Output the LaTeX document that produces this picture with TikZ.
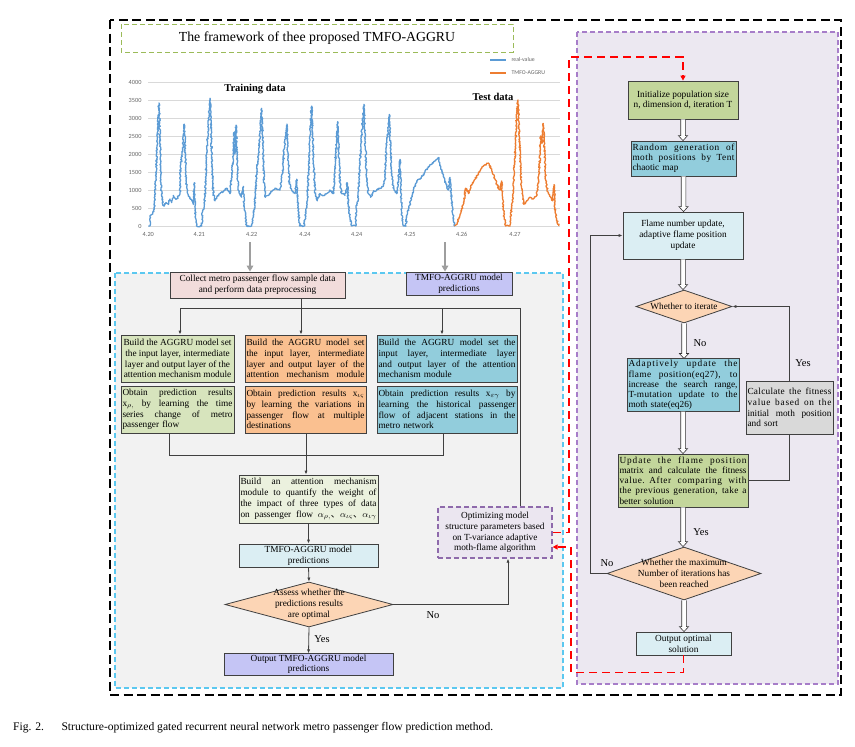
\documentclass[tikz,border=0pt]{standalone}
\usepackage{fontspec}
\setmainfont{Liberation Serif}
\newfontfamily\chartfont{Carlito}
\newfontfamily\cjkfont{Noto Sans CJK SC}
\usetikzlibrary{arrows.meta,shapes.geometric,calc,decorations.pathmorphing}
\newcommand\bxfont{\fontsize{9.3}{10.8}\selectfont}
\newcommand\bxsfont{\fontsize{9.3}{10.2}\selectfont}
\newcommand\jline[1]{\makebox[\hsize][s]{\spaceskip=0.25em plus 1fil\relax #1}}
\newcommand\ljline[2]{\makebox[\hsize][s]{\addfontfeatures{LetterSpace=#1}\spaceskip=0.25em plus 1fil\relax #2}}
\newcommand\cjkcomma{{\cjkfont 、}}
\definecolor{cA}{HTML}{D7E4BD}
\definecolor{cB}{HTML}{FAC090}
\definecolor{cC}{HTML}{92CDDC}
\definecolor{cPink}{HTML}{F2DCDB}
\definecolor{cLav}{HTML}{C5C5F5}
\definecolor{cLB}{HTML}{DBEEF3}
\definecolor{cLG}{HTML}{EBF1DE}
\definecolor{cDia}{HTML}{FCD5B5}
\definecolor{cG2}{HTML}{C3D69B}
\definecolor{cGray}{HTML}{D9D9D9}
\definecolor{cOpt}{HTML}{EBE6F0}
\definecolor{cPurp}{HTML}{A77DC9}
\definecolor{cPurpBg}{HTML}{ECE8F1}
\definecolor{cCyan}{HTML}{5BC8F0}
\definecolor{cOlive}{HTML}{9BBB59}
\definecolor{cBlue}{HTML}{5B9BD5}
\definecolor{cOrange}{HTML}{ED7D31}
\newcommand\harrow[2]{\path[draw=black!80, fill=white, line width=0.6pt] let \p1=(#1), \p2=(#2) in (\x1-2.3pt,\y1) -- (\x1-2.3pt,\y2+5pt) -- (\x1-4.6pt,\y2+5pt) -- (\x1,\y2) -- (\x1+4.6pt,\y2+5pt) -- (\x1+2.3pt,\y2+5pt) -- (\x1+2.3pt,\y1);}
\begin{document}
\begin{tikzpicture}[x=1pt,y=-1pt,
  box/.style={draw=black!75, line width=0.8pt, inner sep=1.5pt, font=\bxfont, align=center},
  jbox/.style={box, align=left},
  dia/.style={draw=black!75, line width=0.8pt, shape=diamond, inner sep=0pt, fill=cDia},
  ln/.style={draw=black!75, line width=0.8pt},
  tip/.style={-{Latex[length=4pt,width=3.2pt]}},
  lbl/.style={font=\fontsize{10.5}{12}\selectfont},
  redl/.style={draw=red, line width=1.4pt, dash pattern=on 8pt off 5pt},
  grayarrow/.style={draw=black!38, line width=1.6pt, -{Triangle[length=6pt,width=6.5pt]}},
  chl/.style={font=\chartfont\fontsize{6.3}{7}\selectfont, text=black!60}
]
\useasboundingbox (0,0) rectangle (855,747);
\fill[white] (0,0) rectangle (855,747);

% frames
\draw[black, line width=1.8pt, dash pattern=on 9pt off 4.5pt] (110,20) rectangle (841,695);
\draw[cPurp, fill=cPurpBg, line width=1.2pt, dash pattern=on 5pt off 3pt] (577,32) rectangle (838,684);
\draw[cCyan, fill=black!5, line width=1.2pt, dash pattern=on 5pt off 3pt] (115,273) rectangle (563,688);
\draw[cOlive, line width=1pt, dash pattern=on 5pt off 3pt] (121,24) rectangle (513,52);
\node[font=\fontsize{13.8}{15}\selectfont] (title) at (317,38) {The framework of thee proposed TMFO-AGGRU};

% chart
\begin{scope}[shift={(100pt,-226pt)}, x=0.33333pt, y=0.036pt]
  \foreach \v in {0,500,...,4000} {
    \draw[black!15, line width=0.5pt] (145,\v) -- (1380,\v);
    \node[chl, anchor=east] at (135,\v) {\v};
  }
  \foreach \xx/\t in {145/4.20, 298/4.21, 455/4.22, 615/4.24, 770/4.24, 930/4.25, 1085/4.26, 1245/4.27}
    \node[chl] at (\xx,-225) {\t};
  \pgfmathsetseed{11}
  \draw[cBlue, line width=1.3pt, line join=round, decorate, decoration={random steps, segment length=1pt, amplitude=0.8pt}] plot coordinates {
  (145,0) (150,0) (152,300) (158,350) (163,500) (168,1500) (171,2200) (174,2800) (177,3420) (180,2500) (183,1200) (187,700) (192,550) (198,650) (205,600) (210,750) (215,650) (220,850) (230,750) (240,900) (242,1700) (246,2000) (250,2400) (253,2830) (256,2000) (259,1200) (263,900) (270,800) (275,700) (280,600) (283,1200) (285,500) (288,100) (290,0) (305,0) (308,400) (312,500) (316,1000) (320,2000) (325,2800) (330,3550) (334,2500) (337,1500) (340,900) (345,700) (350,800) (360,900) (370,950) (380,1050) (390,900) (398,1700) (402,2600) (405,2000) (408,2800) (411,2000) (414,1100) (418,900) (425,800) (430,1100) (432,600) (436,300) (440,0) (455,0) (460,300) (465,700) (470,1500) (475,2000) (480,2500) (485,3270) (489,2200) (492,1200) (496,800) (505,850) (515,950) (525,1050) (540,1000) (548,1500) (553,2200) (557,2500) (561,2830) (564,2000) (568,1200) (575,1000) (585,900) (590,1300) (593,700) (597,200) (600,0) (612,0) (618,400) (622,700) (626,1500) (630,2500) (635,3330) (638,2500) (642,1500) (646,900) (652,700) (660,900) (670,850) (680,900) (690,1000) (700,900) (706,1800) (710,2600) (713,2900) (716,2100) (720,1200) (725,900) (735,850) (742,1200) (745,600) (750,200) (755,0) (767,0) (770,600) (774,700) (778,1500) (783,2300) (787,2800) (792,3380) (796,2300) (800,1300) (805,900) (812,800) (820,950) (830,1000) (840,1050) (850,1100) (855,1300) (860,2400) (865,2600) (868,3100) (872,2200) (876,1300) (882,1000) (890,900) (896,1300) (900,1850) (903,900) (906,200) (910,0) (918,0) (922,400) (927,500) (932,700) (940,1000) (950,1250) (960,1300) (975,1500) (985,1650) (1000,1750) (1015,1900) (1020,1700) (1030,1400) (1040,1100) (1045,1000) (1050,1350) (1055,700) (1060,150) (1065,0)};
  \draw[cOrange, line width=1.3pt, line join=round, decorate, decoration={random steps, segment length=1pt, amplitude=0.8pt}] plot coordinates {
  (1065,0) (1072,100) (1080,300) (1090,600) (1097,1050) (1105,900) (1115,1150) (1125,1300) (1135,1450) (1145,1600) (1155,1700) (1165,1750) (1175,1550) (1185,1300) (1195,1050) (1200,1000) (1205,1250) (1208,800) (1212,300) (1217,0) (1230,0) (1235,500) (1240,1000) (1245,2000) (1250,3000) (1254,3500) (1258,2500) (1262,1500) (1266,900) (1272,600) (1280,700) (1290,800) (1300,750) (1310,850) (1318,1500) (1322,2500) (1326,2300) (1330,2850) (1334,2000) (1338,1200) (1345,900) (1352,800) (1358,700) (1362,1150) (1365,500) (1370,200) (1376,0)};
\end{scope}
\draw[cBlue, line width=1.3pt] (490,60) -- (506,60);
\node[chl, anchor=west, font=\chartfont\fontsize{5.8}{7}\selectfont] (lg1) at (508,60) {real-value};
\draw[cOrange, line width=1.3pt] (490,73) -- (506,73);
\node[chl, anchor=west, font=\chartfont\fontsize{5.8}{7}\selectfont] (lg2) at (508,73) {TMFO-AGGRU};
\node[font=\bfseries\fontsize{10.5}{12}\selectfont] (train) at (255,89) {Training data};
\node[font=\bfseries\fontsize{10.5}{12}\selectfont] (test) at (493,97) {Test data};

% left flowchart nodes
\node[box, fill=cPink, minimum width=175, minimum height=26] (collect) at (257.5,285) {Collect metro passenger flow sample data\\and perform data preprocessing};
\node[box, fill=cLav, minimum width=106, minimum height=23] (tmfo) at (459,283.5) {TMFO-AGGRU model\\predictions};

\node[box, fill=cA, minimum width=113, minimum height=47] (a1) at (177.5,358.5) {Build the AGGRU model set\\the input layer, intermediate\\layer and output layer of the\\attention mechanism module};
\node[jbox, fill=cB, minimum width=121, minimum height=47, text width=118] (b1) at (305.5,358.5) {\jline{Build the AGGRU model set}\\\jline{the input layer, intermediate}\\\jline{layer and output layer of the}\\\jline{attention mechanism module}};
\node[jbox, fill=cC, minimum width=140, minimum height=47, text width=137] (c1) at (447,358.5) {\jline{Build the AGGRU model set the}\\\jline{input layer, intermediate layer}\\\jline{and output layer of the attention}\\mechanism module};

\node[jbox, fill=cA, minimum width=113, minimum height=47, text width=110] (a2) at (177.5,409.5) {\jline{Obtain prediction results}\\\jline{x$_{\rho,}$ by learning the time}\\\jline{series change of metro}\\passenger flow};
\node[jbox, fill=cB, minimum width=121, minimum height=47, text width=118] (b2) at (305.5,409.5) {\jline{Obtain prediction results x$_{\iota\varsigma}$}\\\jline{by learning the variations in}\\\jline{passenger flow at multiple}\\destinations};
\node[jbox, fill=cC, minimum width=140, minimum height=47, text width=137] (c2) at (447,409.5) {\jline{Obtain prediction results x$_{\varepsilon\gamma}$ by}\\\jline{learning the historical passenger}\\\jline{flow of adjacent stations in the}\\metro network};

\node[jbox, fill=cLG, minimum width=139, minimum height=48, text width=136] (att) at (308.5,499) {\jline{Build an attention mechanism}\\\jline{module to quantify the weight of}\\\jline{the impact of three types of data}\\\jline{on passenger flow $\alpha_{\rho,}$\cjkcomma$\alpha_{\iota\varsigma}$\cjkcomma$\alpha_{\iota\gamma}$}};
\node[box, fill=cLB, minimum width=139, minimum height=23] (pred) at (308.5,555.5) {TMFO-AGGRU model\\predictions};
\node[dia, minimum width=168, minimum height=45, label={[font=\bxfont, align=center]center:{Assess whether the\\predictions results\\are optimal}}] (dl) at (309,604.5) {};
\node[box, fill=cLav, minimum width=169, minimum height=21, font=\fontsize{9.3}{10}\selectfont] (outl) at (308.5,664.5) {Output TMFO-AGGRU model\\predictions};
\node[box, fill=cOpt, draw=cPurp!85!black, line width=1.3pt, dash pattern=on 5pt off 3pt, minimum width=114, minimum height=51] (opt) at (495,532.5) {Optimizing model\\structure parameters based\\on T-variance adaptive\\moth-flame algorithm};

% left connectors
\draw[grayarrow] (250,242) -- (collect.north -| 250,0);
\draw[grayarrow] (445,242) -- (tmfo.north -| 445,0);
\coordinate (busA) at (180,308);
\coordinate (busB) at (301,308);
\coordinate (busC) at (442,308);
\coordinate (busR) at (520,308);
\draw[ln] (collect.south -| busB) -- (busB);
\draw[ln] (busA) -- (busR);
\draw[ln,tip] (busA) -- (busA |- a1.north);
\draw[ln,tip] (busB) -- (busB |- b1.north);
\draw[ln,tip] (busC) -- (busC |- c1.north);
\draw[ln] (busR) -- (busR |- opt.north);
\coordinate (mA) at (169,455);
\coordinate (mB) at (306,455);
\coordinate (mC) at (443,455);
\draw[ln] (a2.south -| mA) -- (mA) -- (mC) -- (c2.south -| mC);
\draw[ln] (b2.south -| mB) -- (mB);
\draw[ln,tip] (mB) -- (att.north -| mB);
\draw[ln,tip] (att.south) -- (pred.north);
\draw[ln,tip] (pred.south) -- (dl.north);
\draw[ln,tip] (dl.south) -- (outl.north);
\coordinate (noc) at (508,604.5);
\draw[ln,tip] (dl.east) -- (noc) -- (noc |- opt.south);
\node[lbl] (yesl) at (322,639) {Yes};
\node[lbl] (nol) at (433,615) {No};

% right flowchart nodes
\node[box, fill=cG2, minimum width=110, minimum height=38] (init) at (683,100) {Initialize population size\\n, dimension d, iteration T};
\node[jbox, fill=cC, minimum width=105, minimum height=35, text width=102, font=\bxsfont] (rand) at (683.5,158.5) {\ljline{7}{Random generation of}\\\ljline{5}{moth positions by Tent}\\chaotic map};
\node[box, fill=cLB, minimum width=120, minimum height=47] (fl) at (683,235.5) {Flame number update,\\adaptive flame position\\update};
\node[dia, minimum width=96, minimum height=33, label={[font=\bxfont]center:Whether to iterate}] (d1) at (684,306.5) {};
\node[jbox, fill=cC, minimum width=112, minimum height=52, text width=109, font=\bxsfont] (adapt) at (683,385) {\ljline{10}{Adaptively update the}\\\ljline{4}{flame position(eq27), to}\\\jline{increase the search range,}\\\ljline{3}{T-mutation update to the}\\moth state(eq26)};
\node[jbox, fill=cG2, minimum width=130, minimum height=53, text width=127, font=\bxsfont] (upd) at (683,480.5) {\ljline{10}{Update the flame position}\\\jline{matrix and calculate the fitness}\\\ljline{6}{value. After comparing with}\\\ljline{3}{the previous generation, take a}\\better solution};
\node[jbox, fill=cGray, minimum width=87, minimum height=53, text width=84] (calc) at (789.5,407.5) {\ljline{3}{Calculate the fitness}\\\ljline{8}{value based on the}\\\jline{initial moth position}\\and sort};
\node[dia, minimum width=154, minimum height=53, label={[font=\bxfont, align=center]center:{Whether the maximum\\Number of iterations has\\been reached}}] (d2) at (684,573.5) {};
\node[box, fill=cLB, minimum width=95, minimum height=23] (outopt) at (683.5,643.5) {Output optimal\\solution};

% right connectors
\harrow{init.south}{rand.north}
\harrow{rand.south}{fl.north}
\harrow{fl.south}{d1.north}
\harrow{d1.south}{adapt.north}
\harrow{adapt.south}{upd.north}
\harrow{upd.south}{d2.north}
\harrow{d2.south}{outopt.north}
\draw[ln] (upd.east) -- (upd.east -| calc.south) -- (calc.south);
\draw[ln,tip] (calc.north) -- (calc.north |- d1.east) -- (d1.east);
\coordinate (nl) at (590,573.5);
\draw[ln,tip] (d2.west) -- (nl) -- (nl |- fl.west) -- (fl.west);
\node[lbl] (no1) at (700,343) {No};
\node[lbl] (yes1) at (803,363) {Yes};
\node[lbl] (yes2) at (701,532) {Yes};
\node[lbl] (no2) at (607,563) {No};

% red dashed links
\coordinate (r1) at (569,532.5);
\coordinate (r2) at (569,57);
\draw[redl, -{Triangle[length=5pt,width=5pt]}] (opt.east) -- (r1) -- (r2) -- (r2 -| init.north) -- (init.north);
\coordinate (r3) at (571,672.5);
\coordinate (r4) at ($(opt.east)+(0,14.5)$);
\draw[redl, -{Triangle[length=5pt,width=5pt]}] (outopt.south) -- (outopt.south |- r3) -- (r3) -- (r3 |- r4) -- (r4);

% caption
\node[anchor=base west, font=\fontsize{11.6}{13}\selectfont, inner sep=0pt] (cap) at (13,730) {Fig. 2.\hspace{1.5em}Structure-optimized gated recurrent neural network metro passenger flow prediction method.};
\end{tikzpicture}
\end{document}
